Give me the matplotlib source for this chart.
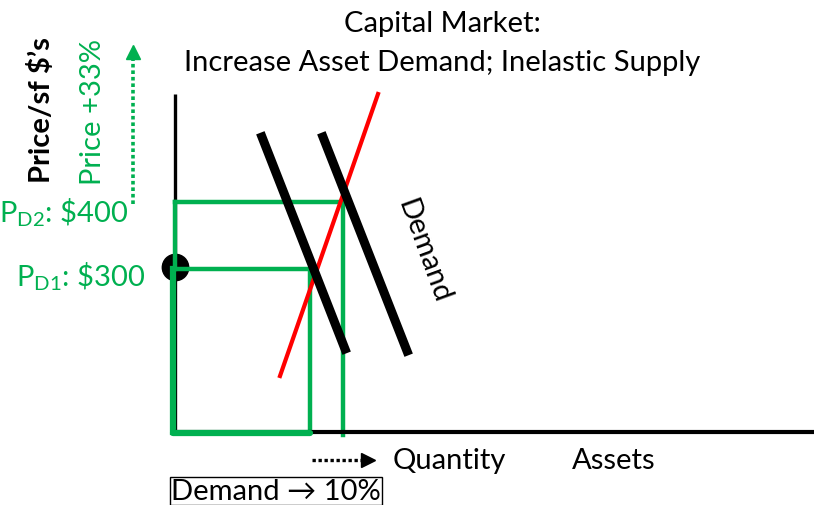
import matplotlib
matplotlib.use('Agg')
import matplotlib.pyplot as plt

plt.rcParams['font.family'] = ['Lato', 'DejaVu Sans']
plt.rcParams['mathtext.fontset'] = 'custom'
plt.rcParams['mathtext.rm'] = 'Lato'

# Schematic units: quantity to the right, price upward (origin at the axes corner)
q_axis_end = 639
p_axis_top = 338
price_levels = [163, 230]          # P_D1, P_D2
quantity_levels = [135, 168]       # Q at D1, Q at D2
price_labels = ['P$_{\\mathregular{D1}}$: \\$300', 'P$_{\\mathregular{D2}}$: \\$400']
supply_q = [105, 203]
supply_p = [56, 338]
demand1_q = [87, 170]
demand1_p = [295, 83]
demand2_q = [148, 232]
demand2_p = [295, 81]

GREEN = '#00B050'
FS = 21

fig = plt.figure(figsize=(8.14, 5.06), dpi=100)
ax = fig.add_axes([0, 0, 1, 1])
ax.set_xlim(-175, 639)
ax.set_ylim(-73, 433)
ax.axis('off')

# axes of the diagram
ax.plot([0, 0], [0, p_axis_top], color='black', lw=2.4, solid_capstyle='butt')
ax.plot([0, q_axis_end], [0, 0], color='black', lw=3, solid_capstyle='butt', zorder=2.5)

# green price/quantity boxes
q1, q2 = quantity_levels
p1, p2 = price_levels
ax.plot([0, q2, q2], [p2, p2, -3], color=GREEN, lw=3.2, solid_joinstyle='round')
ax.plot([0, q1, q1], [p1, p1, 0], color=GREEN, lw=3.2, solid_joinstyle='round')
ax.plot([-2, -2], [0, p1], color=GREEN, lw=4.5)
ax.plot([0, 0], [p1, p2], color=GREEN, lw=3.2)
ax.plot([-2, q1], [-1, -1], color=GREEN, lw=4.5, solid_capstyle='round', zorder=2.6)

# dot at P_D1
ax.plot([0], [p1 + 2], 'o', color='black', ms=19, zorder=1)

# supply and demand lines
ax.plot(supply_q, supply_p, color='red', lw=3, zorder=3)
ax.plot(demand1_q, demand1_p, color='black', lw=6.5, zorder=4)
ax.plot(demand2_q, demand2_p, color='black', lw=6.5, zorder=4)
ax.text(248, 182, 'Demand', rotation=-70, ha='center', va='center', fontsize=FS)

# title
ax.text(267, 409, 'Capital Market:', ha='center', va='center', fontsize=FS)
ax.text(267, 370, 'Increase Asset Demand; Inelastic Supply', ha='center', va='center', fontsize=FS)

# y labels
ax.text(-133, 323, 'Price/sf $\u2019s', rotation=90, ha='center', va='center',
        fontsize=FS, fontweight='bold')
ax.text(-82, 321, 'Price +33%', rotation=90, ha='center', va='center',
        fontsize=FS, color=GREEN)
ax.plot([-42, -42], [228, 380], color=GREEN, lw=2.6, linestyle=(0, (1, 0.8)))
ax.plot([-42], [380], marker='^', color=GREEN, ms=10)

ax.text(-47, p2 - 10, price_labels[1], ha='right', va='center',
        fontsize=FS, color=GREEN)
ax.text(-30, p1 - 7, price_labels[0], ha='right', va='center',
        fontsize=FS, color=GREEN)

# quantity labels
ax.plot([137, 190], [-28, -28], color='black', lw=2.4, linestyle=(0, (1, 0.8)))
ax.plot([193], [-28], marker='>', color='black', ms=10)
ax.text(218, -28, 'Quantity', ha='left', va='center', fontsize=FS)
ax.text(397, -28, 'Assets', ha='left', va='center', fontsize=FS)
ax.text(-4, -59, 'Demand \u2192 10%', ha='left', va='center', fontsize=FS,
        bbox=dict(boxstyle='square,pad=0.05', fc='white', ec='black', lw=1))

fig.savefig('out.png', dpi=100)
